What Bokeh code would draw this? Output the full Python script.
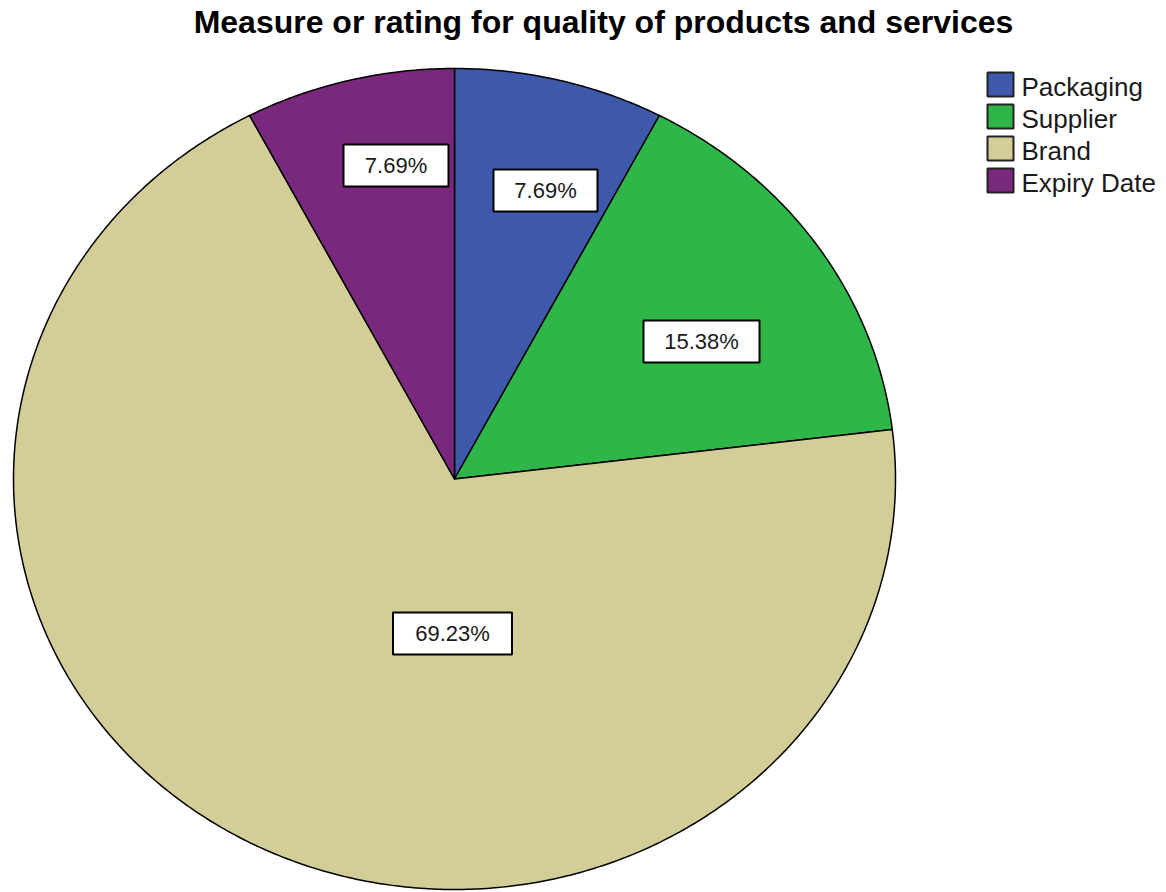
import numpy as np
from bokeh.plotting import figure
from bokeh.models import Range1d, ColumnDataSource
from bokeh.core.properties import value
from bokeh.embed import file_html
from bokeh.resources import INLINE

# ---------------- data ----------------
title = "Measure or rating for quality of products and services"
categories = ["Packaging", "Supplier", "Brand", "Expiry Date"]
percentages = [7.69, 15.38, 69.23, 7.69]

# ---------------- style / layout ----------------
colors = ["#3E58AC", "#2EB748", "#D3CE97", "#79287D"]
FONT = "Liberation Sans"
W, H = 1166, 892
CX, CY, RX, RY = 454, 478.5, 441, 410.5      # ellipse centre and radii (screen px)
label_pos = [(545, 190), (701, 341), (452, 633), (395.5, 165)]
label_w = [104, 116, 119, 105]
label_h = 42
LEG_X, LEG_Y0, LEG_DY = 1000, 84, 32

p = figure(width=W, height=H, output_backend="svg", toolbar_location=None,
           x_range=Range1d(0, W), y_range=Range1d(H, 0),
           x_axis_location=None, y_axis_location=None, min_border=0)
p.grid.visible = False
p.outline_line_color = None
p.background_fill_color = "white"

# ---------------- pie slices (elliptical) ----------------
vals = np.array(percentages, dtype=float)
fr = vals / vals.sum()
ends = 90 - np.cumsum(fr) * 360
starts = np.concatenate([[90], ends[:-1]])
xs, ys = [], []
for a0, a1 in zip(starts, ends):
    n = max(int(abs(a0 - a1) * 2), 4)
    t = np.radians(np.linspace(a0, a1, n))
    xs.append(list(np.concatenate([[CX], CX + RX * np.cos(t), [CX]])))
    ys.append(list(np.concatenate([[CY], CY - RY * np.sin(t), [CY]])))
src = ColumnDataSource(dict(xs=xs, ys=ys, color=colors, cat=categories))
p.patches("xs", "ys", source=src, fill_color="color", line_color="black",
          line_width=1.5, line_join="round")

# ---------------- percentage labels ----------------
lsrc = ColumnDataSource(dict(
    x=[q[0] for q in label_pos], y=[q[1] for q in label_pos], w=label_w,
    txt=[f"{v:.2f}%" for v in percentages]))
p.rect("x", "y", width="w", height=label_h, source=lsrc, fill_color="white",
       line_color="black", line_width=2)
p.text("x", "y", text="txt", source=lsrc, text_align="center",
       text_baseline="middle", text_font=value(FONT), text_font_size="22px",
       text_color="#1a1a1a")

# ---------------- legend ----------------
ly = [LEG_Y0 + LEG_DY * i for i in range(len(categories))]
gsrc = ColumnDataSource(dict(x=[LEG_X] * len(categories), y=ly, color=colors,
                             tx=[LEG_X + 21] * len(categories),
                             ty=[v + 2.5 for v in ly], cat=categories))
p.rect("x", "y", width=26, height=24, source=gsrc, fill_color="color",
       line_color="#222222", line_width=2)
p.text("tx", "ty", text="cat", source=gsrc, text_align="left",
       text_baseline="middle", text_font=value(FONT),
       text_font_size="26px", text_color="#1a1a1a")

# ---------------- title ----------------
p.text(x=[603], y=[21.5], text=[title], text_align="center",
       text_baseline="middle", text_font=value(FONT),
       text_font_size="32px", text_font_style="bold", text_color="black")

open("out.html", "w").write(file_html(p, INLINE))
